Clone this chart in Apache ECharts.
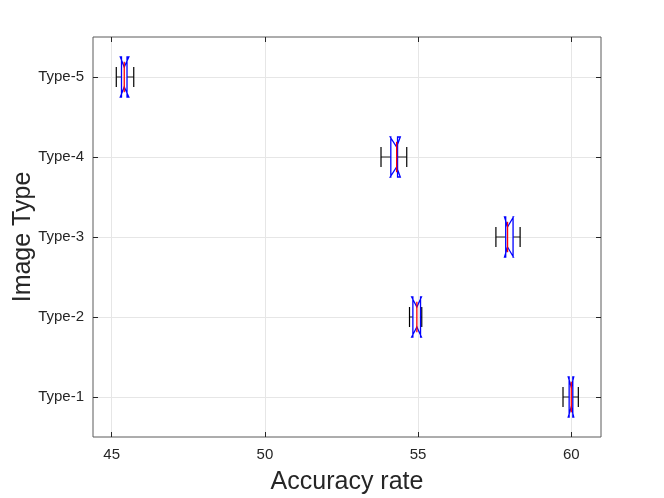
<!DOCTYPE html>
<html>
<head>
<meta charset="utf-8">
<script src="https://cdn.jsdelivr.net/npm/echarts@6/dist/echarts.min.js"></script>
<style>
  html, body { margin: 0; padding: 0; background: #fff; }
  #chart { width: 664px; height: 498px; }
</style>
</head>
<body>
<div id="chart"></div>
<script>
// categories bottom to top
const categories = ['Type-1', 'Type-2', 'Type-3', 'Type-4', 'Type-5'];
// box statistics (accuracy rate)
const whiskerLow  = [59.73, 54.72, 57.54, 53.79, 45.15];
const notchLow    = [59.90, 54.79, 57.82, 54.09, 45.28];
const q1          = [59.93, 54.83, 57.86, 54.11, 45.32];
const median      = [60.00, 54.96, 57.92, 54.30, 45.41];
const q3          = [60.05, 55.08, 58.10, 54.33, 45.50];
const notchHigh   = [60.08, 55.11, 58.11, 54.42, 45.56];
const whiskerHigh = [60.23, 55.12, 58.33, 54.63, 45.72];
const xTicks = [45, 50, 55, 60];
const yTicks = [1, 2, 3, 4, 5];

const chart = echarts.init(document.getElementById('chart'));
const font = 'Liberation Sans, Arial, Helvetica, sans-serif';

const boxData = categories.map((c, i) => [
    i + 1, whiskerLow[i], notchLow[i], q1[i], median[i], q3[i], notchHigh[i], whiskerHigh[i]
]);

// MATLAB style notched horizontal box
function renderBox(params, api) {
    const y = api.value(0);
    const wlo = api.value(1), nlo = api.value(2), b1 = api.value(3), med = api.value(4);
    const b3 = api.value(5), nhi = api.value(6), whi = api.value(7);
    const hw = 0.25, nw = 0.125, cw = 0.125, mw = 0.19;
    const p = (v, dy) => api.coord([v, y + dy]);
    const black = { stroke: '#000', lineWidth: 1.2 };
    const poly = [
        p(b1, -hw), p(nlo, -hw), p(med, -nw), p(nhi, -hw), p(b3, -hw),
        p(b3, hw), p(nhi, hw), p(med, nw), p(nlo, hw), p(b1, hw)
    ];
    const line = (a, b, style) => ({
        type: 'line',
        shape: { x1: a[0], y1: a[1], x2: b[0], y2: b[1] },
        style: style
    });
    return {
        type: 'group',
        children: [
            line(p(wlo, 0), p(b1, 0), { stroke: '#444', lineWidth: 1.2 }),
            line(p(b3, 0), p(whi, 0), { stroke: '#444', lineWidth: 1.2 }),
            line(p(wlo, -cw), p(wlo, cw), black),
            line(p(whi, -cw), p(whi, cw), black),
            {
                type: 'polygon',
                shape: { points: poly },
                style: { fill: 'none', stroke: '#0000ff', lineWidth: 1.3 }
            },
            line(p(med, -mw), p(med, mw), { stroke: '#ff0000', lineWidth: 1.3 })
        ]
    };
}

const tickStyle = { color: '#262626', width: 1 };

const option = {
    backgroundColor: '#fff',
    animation: false,
    grid: {
        left: 93, right: 63, top: 37, bottom: 61,
        outerBoundsMode: 'none',
        containLabel: false,
        show: true, borderColor: '#5a5a5a', borderWidth: 1, backgroundColor: '#fff'
    },
    xAxis: [
        {
            type: 'value', position: 'bottom', min: 44.39, max: 60.97,
            name: 'Accuracy rate', nameLocation: 'middle', nameGap: 33,
            nameMoveOverlap: false,
            nameTextStyle: { fontSize: 25, color: '#262626', fontFamily: font },
            axisLine: { show: false },
            axisTick: { show: true, inside: true, length: 5, customValues: xTicks, lineStyle: tickStyle },
            axisLabel: { customValues: xTicks, fontSize: 15, color: '#262626', fontFamily: font, margin: 10 },
            splitLine: { show: true, lineStyle: { color: '#e6e6e6', width: 1 } }
        },
        {
            type: 'value', position: 'top', min: 44.39, max: 60.97,
            axisLine: { show: false },
            axisTick: { show: true, inside: true, length: 5, customValues: xTicks, lineStyle: tickStyle },
            axisLabel: { show: false },
            splitLine: { show: false }
        }
    ],
    yAxis: [
        {
            type: 'value', position: 'left', min: 0.5, max: 5.5,
            name: 'Image Type', nameLocation: 'middle', nameGap: 57,
            nameMoveOverlap: false,
            nameTextStyle: { fontSize: 25, color: '#262626', fontFamily: font },
            axisLine: { show: false },
            axisTick: { show: true, inside: true, length: 5, customValues: yTicks, lineStyle: tickStyle },
            axisLabel: {
                customValues: yTicks, fontSize: 15, color: '#262626', fontFamily: font, margin: 9,
                formatter: v => categories[Math.round(v) - 1]
            },
            splitLine: { show: true, lineStyle: { color: '#e6e6e6', width: 1 } }
        },
        {
            type: 'value', position: 'right', min: 0.5, max: 5.5,
            axisLine: { show: false },
            axisTick: { show: true, inside: true, length: 5, customValues: yTicks, lineStyle: tickStyle },
            axisLabel: { show: false },
            splitLine: { show: false }
        }
    ],
    series: [
        {
            type: 'custom',
            xAxisIndex: 0,
            yAxisIndex: 0,
            renderItem: renderBox,
            encode: { x: [1, 2, 3, 4, 5, 6, 7], y: 0 },
            data: boxData,
            clip: false,
            z: 5
        }
    ]
};

chart.setOption(option);
</script>
</body>
</html>
